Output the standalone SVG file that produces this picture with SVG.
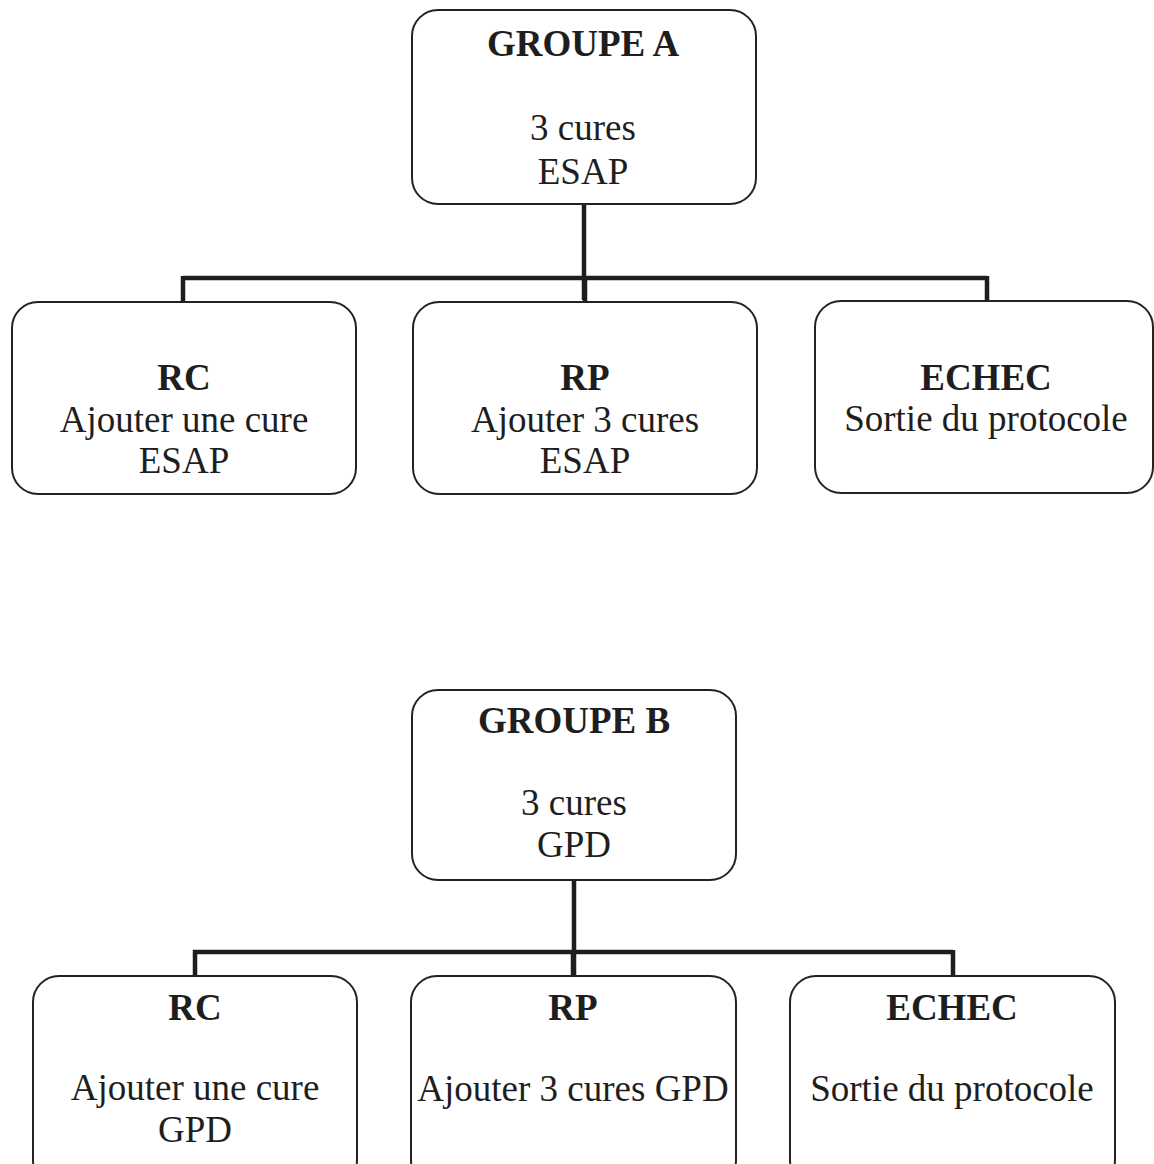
<svg xmlns="http://www.w3.org/2000/svg" width="1154" height="1164" viewBox="0 0 1154 1164">
<style>
.box{fill:#fff;stroke:#222;stroke-width:2}
.t{font-family:"Liberation Serif","Times New Roman",serif;font-size:37px;fill:#1e1e1e;text-anchor:middle}
.b{font-weight:bold}
.c{stroke:#1e1e1e;fill:none;stroke-width:4.5;stroke-linecap:butt}
</style>
<rect width="1154" height="1164" fill="#fff"/>
<g id="connectors">
<path class="c" d="M584 204V300M183 278H987M183 276V302M585 276V302M987 276V301"/>
<path class="c" d="M574 880V976M193 952H953M195 950V976M573 950V976M953 950V976"/>
</g>
<g id="groupeA">
<rect class="box" x="412" y="10" width="344" height="194" rx="26"/>
<text class="t b" x="583" y="56">GROUPE A</text>
<text class="t" x="583" y="140">3 cures</text>
<text class="t" x="583" y="184">ESAP</text>
</g>
<g id="a-rc">
<rect class="box" x="12" y="302" width="344" height="192" rx="26"/>
<text class="t b" x="184" y="390">RC</text>
<text class="t" x="184" y="432">Ajouter une cure</text>
<text class="t" x="184" y="473">ESAP</text>
</g>
<g id="a-rp">
<rect class="box" x="413" y="302" width="344" height="192" rx="26"/>
<text class="t b" x="585" y="390">RP</text>
<text class="t" x="585" y="432">Ajouter 3 cures</text>
<text class="t" x="585" y="473">ESAP</text>
</g>
<g id="a-echec">
<rect class="box" x="815" y="301" width="338" height="192" rx="26"/>
<text class="t b" x="986" y="390">ECHEC</text>
<text class="t" x="986" y="431">Sortie du protocole</text>
</g>
<g id="groupeB">
<rect class="box" x="412" y="690" width="324" height="190" rx="26"/>
<text class="t b" x="574" y="733">GROUPE B</text>
<text class="t" x="574" y="815">3 cures</text>
<text class="t" x="574" y="857">GPD</text>
</g>
<g id="b-rc">
<rect class="box" x="33" y="976" width="324" height="210" rx="26"/>
<text class="t b" x="195" y="1020">RC</text>
<text class="t" x="195" y="1100">Ajouter une cure</text>
<text class="t" x="195" y="1142">GPD</text>
</g>
<g id="b-rp">
<rect class="box" x="411" y="976" width="325" height="210" rx="26"/>
<text class="t b" x="573" y="1020">RP</text>
<text class="t" x="573" y="1101">Ajouter 3 cures GPD</text>
</g>
<g id="b-echec">
<rect class="box" x="790" y="976" width="325" height="210" rx="26"/>
<text class="t b" x="952" y="1020">ECHEC</text>
<text class="t" x="952" y="1101">Sortie du protocole</text>
</g>
</svg>
